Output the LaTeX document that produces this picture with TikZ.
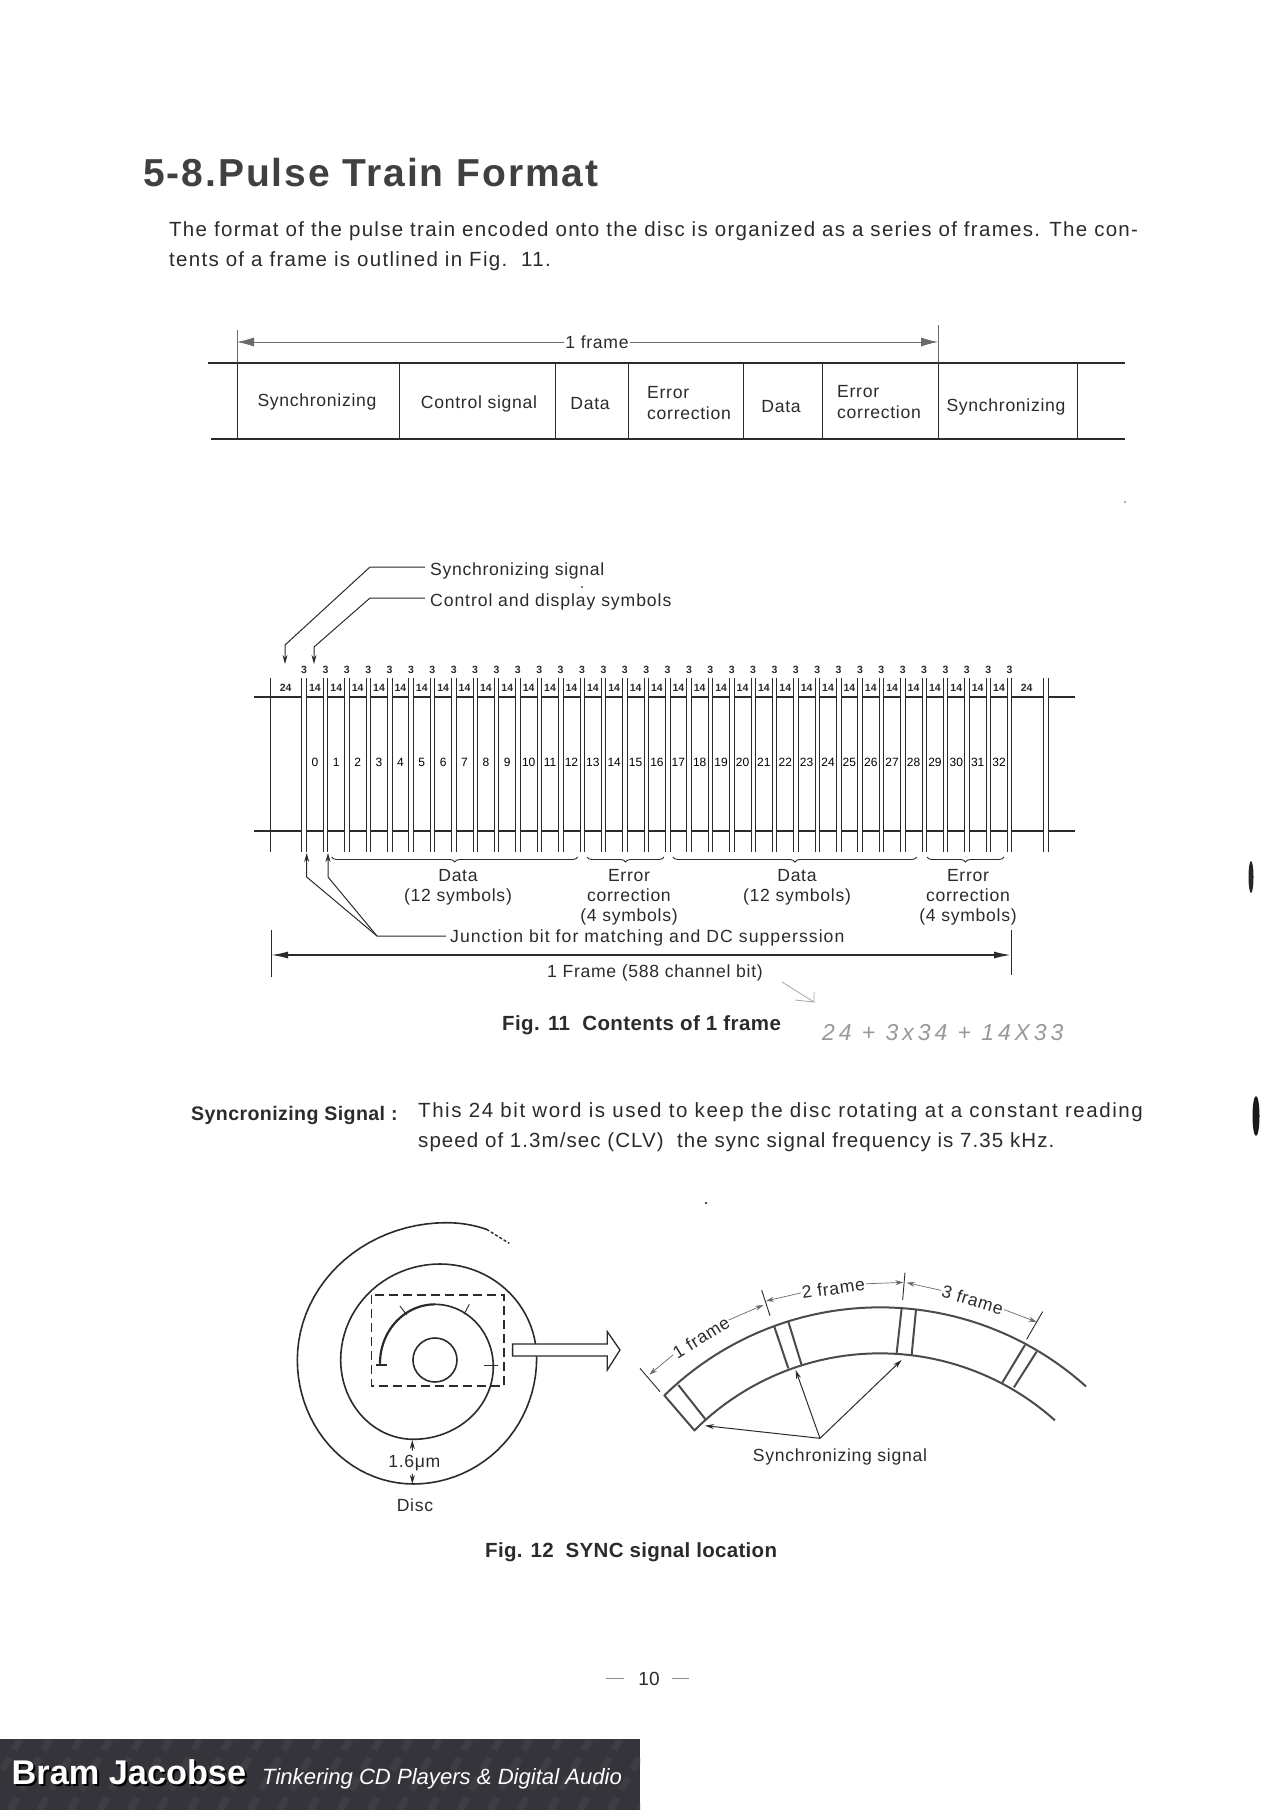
\documentclass[tikz,border=0pt]{standalone}
\usepackage{fontspec}
\setmainfont{Liberation Sans}
\newfontfamily\spaced[LetterSpace=4]{Liberation Sans}
\newfontfamily\capfont[LetterSpace=2]{Liberation Sans}
\usetikzlibrary{arrows.meta,decorations.pathreplacing,calc}
\definecolor{ink}{HTML}{2B2B2B}
\definecolor{hair}{HTML}{6A6A6A}
\definecolor{banner}{HTML}{34343A}
\definecolor{wmark}{HTML}{3D3D43}

\begin{document}
\begin{tikzpicture}[
    x=1pt, y=-1pt,
    every node/.style={inner sep=1pt, text=ink},
    lbl/.style={font=\spaced\fontsize{17.6}{18}\selectfont},
    body/.style={font=\fontsize{20.5}{21}\selectfont, anchor=west},
    figcap/.style={font=\capfont\bfseries\fontsize{20.5}{21}\selectfont, anchor=west},
    tiny14/.style={font=\bfseries\fontsize{10.5}{11}\selectfont},
    numlbl/.style={font=\fontsize{12}{12}\selectfont, text=black},
    line/.style={draw=ink, line width=0.9pt},
    rail/.style={draw=ink, line width=1.6pt},
    arrow/.style={draw=ink, line width=1pt, -{Stealth[length=9pt,width=5pt]}},
    dimarrow/.style={draw=ink, line width=1.6pt, {Latex[length=17pt,width=7pt]}-{Latex[length=17pt,width=7pt]}},
    frmarrow/.style={draw=hair, line width=0.8pt, -{Latex[length=17pt,width=9pt]}},
    graydim/.style={draw=hair, line width=0.7pt, -{Stealth[length=8pt,width=5pt]}},
    brc/.style={draw=ink, line width=0.9pt, decorate, decoration={brace,amplitude=5pt}},
    spiral/.style={draw=ink, line width=1.6pt, line cap=round},
    band/.style={draw=ink!85, line width=2pt}
]
\useasboundingbox (0,0) rectangle (1280,1810);
\fill[white] (0,0) rectangle (1280,1810);

\node (title) [anchor=west, font=\bfseries\addfontfeature{LetterSpace=5}\fontsize{39}{40}\selectfont, text=ink!90] at (142,173) {5-8.Pulse Train Format};
\node (paraa) [body] at (168,231.5) {\addfontfeature{LetterSpace=6.3}The format of the pulse train encoded onto the disc is organized as a series of frames. The con-};
\node (parab) [body] at (168,261.5) {\addfontfeature{LetterSpace=6.3}tents of a frame is outlined in Fig.~~11.};

\draw[rail] (208,363) -- (1125,363);
\draw[rail] (211,439) -- (1125,439);
\foreach \xx in {237,399,555,628,743,822,938,1077}
    \draw[line] (\xx,363) -- (\xx,439);
\draw[draw=hair, line width=0.8pt] (237,330) -- (237,363);
\draw[draw=hair, line width=0.8pt] (938,325) -- (938,363);
\node (onefrm) [lbl] at (597,342) {1 frame};
\coordinate (frmleft) at (237,342);
\coordinate (frmright) at (938,342);
\draw[frmarrow] (onefrm) -- (frmleft);
\draw[frmarrow] (onefrm) -- (frmright);
\node (seca) [lbl] at (317,402) {Synchronizing};
\node (secb) [lbl] at (479,404) {Control signal};
\node (secc) [lbl] at (590,404) {Data};
\node (secd) [lbl, align=left] at (689,403) {Error\\[3pt]correction};
\node (sece) [lbl] at (781,407) {Data};
\node (secf) [lbl, align=left] at (879,402) {Error\\[3pt]correction};
\node (secg) [lbl] at (1006,407) {Synchronizing};

\node (syncsig) [lbl, anchor=west] at (429,571) {Synchronizing signal};
\node (ctrlsym) [lbl, anchor=west] at (429,602) {\addfontfeature{LetterSpace=5.2}Control and display symbols};
\coordinate (syncend) at (425,567);
\coordinate (ctrlend) at (425,598);
\coordinate (synctip) at (285,664);
\coordinate (ctrltip) at (314,664);
\draw[arrow] (syncend) -- (370,567) -- (285,645) -- (synctip);
\draw[arrow] (ctrlend) -- (370,598) -- (314,647) -- (ctrltip);

\draw[rail] (254,697) -- (301.7,697);
\draw[rail] (254,831) -- (301.7,831);
\draw[rail] (1011.7,697) -- (1043,697) (1048,697) -- (1075,697);
\draw[rail] (1011.7,831) -- (1043,831) (1048,831) -- (1075,831);
\foreach \xx in {270,301.7,1011.7,1043,1048}
    \draw[line] (\xx,678) -- (\xx,852);
\node (lefttw) [tiny14] at (285.7,688) {24};
\node (righttw) [tiny14] at (1026.7,688) {24};

\foreach \i in {0,...,32} {
    \pgfmathsetmacro{\xa}{306.5+21.38*\i}
    \pgfmathsetmacro{\xb}{\xa+16.9}
    \pgfmathsetmacro{\xc}{\xa+8.4}
    \draw[line] (\xa,678) -- (\xa,852);
    \draw[line] (\xb,678) -- (\xb,852);
    \draw[rail] (\xa,697) -- (\xb,697);
    \draw[rail] (\xa,831) -- (\xb,831);
    \node (cell\i) [tiny14] at (\xc,688) {14};
    \node (num\i) [numlbl] at (\xc,762) {\i};
}
\foreach \i in {0,...,33} {
    \pgfmathsetmacro{\xc}{304.1+21.38*\i}
    \node (gap\i) [tiny14] at (\xc,670) {3};
}

\draw[brc] (577.7,857) -- (331.7,857);
\draw[brc] (664,857) -- (587,857);
\draw[brc] (916.7,857) -- (673,857);
\draw[brc] (1004,857) -- (927,857);
\node (dataa) [lbl, align=center] at (458,887) {Data\\[2pt](12 symbols)};
\node (erra) [lbl, align=center] at (629,897) {Error\\[2pt]correction\\[2pt](4 symbols)};
\node (datab) [lbl, align=center] at (797,887) {Data\\[2pt](12 symbols)};
\node (errb) [lbl, align=center] at (968,897) {Error\\[2pt]correction\\[2pt](4 symbols)};

\node (jbit) [lbl, anchor=west] at (449,937.5) {\addfontfeature{LetterSpace=6}Junction bit for matching and DC supperssion};
\coordinate (jend) at (446,936);
\coordinate (jtipa) at (306.7,853);
\coordinate (jtipb) at (328,853);
\draw[arrow] (jend) -- (377,936) -- (306.7,877) -- (jtipa);
\draw[arrow] (377,936) -- (328,877) -- (jtipb);

\coordinate (fleft) at (271,955);
\coordinate (fright) at (1011,955);
\draw[line] (271,930) -- (271,977);
\draw[line] (1011,930) -- (1011,975);
\draw[dimarrow] (fleft) -- (fright);
\node (oneframe) [lbl] at (655,973) {1 Frame (588 channel bit)};

\node (figa) [figcap] at (501,1025) {Fig. 11~~Contents of 1 frame};
\node (hand) [anchor=west, text=black!40, font=\itshape\addfontfeature{LetterSpace=17}\fontsize{23}{24}\selectfont] at (821,1033) {24 + 3x34 + 14X33};
\draw[draw=black!35, line width=0.8pt] (782,982) -- (814,1002) -- (795,1000) (814,1002) -- (814,992);

\node (syncname) [figcap, font=\capfont\bfseries\fontsize{19.6}{20}\selectfont] at (190,1115) {Syncronizing Signal :};
\node (syncla) [body] at (417,1112) {\addfontfeature{LetterSpace=7.6}This 24 bit word is used to keep the disc rotating at a constant reading};
\node (synclb) [body] at (417,1142) {\addfontfeature{LetterSpace=5.2}speed of 1.3m/sec (CLV)~~the sync signal frequency is 7.35 kHz.};

\begin{scope}[shift={(280,1200)}, scale=0.3333]
\draw[spiral, line width=2.2pt] plot[domain=180:270, samples=24] ({465+165*cos(\x)},{490+177*sin(\x)});
\foreach \cx/\cy/\rx/\ry/\st in {465/500/175/187/270, 400/500/240/218/0, 400/480/218/238/90, 480/480/298/288/180, 480/475/290/283/270, 400/475/370/377/0, 400/480/348/372/90, 500/480/448/412/180}
    \draw[spiral] plot[domain=\st:\st+90, samples=24] ({\cx+\rx*cos(\x)},{\cy+\ry*sin(\x)});
\draw[spiral] plot[domain=270:288, samples=8] ({500+390*cos(\x)},{480+412*sin(\x)});
\draw[draw=ink, line width=1.4pt, densely dashed] (620,88) -- (688,130);
\draw[draw=ink, line width=1.6pt] (465,480) circle (66);
\draw[draw=ink, line width=1.1pt, dash pattern=on 9pt off 5pt] (275,285) rectangle (672,558);
\draw[line, line width=1.4pt] (288,495) -- (320,495);
\draw[line, line width=1.4pt] (612,497) -- (655,497);
\draw[line] (360,318) -- (380,345);
\draw[line] (568,313) -- (552,343);
\draw[draw=ink, line width=1.3pt, fill=white] (698,432) -- (982,432) -- (982,395) -- (1020,450) -- (982,510) -- (982,468) -- (698,468) -- cycle;
\node (pitch) [lbl] at (403,790) {1.6μm};
\node (disc) [lbl] at (405,915) {Disc};
\coordinate (pitchup) at (397,720);
\coordinate (pitchdn) at (397,852);
\draw[arrow] (397,752) -- (pitchup);
\draw[arrow] (397,822) -- (pitchdn);
\end{scope}

\begin{scope}[shift={(620,1250)}, scale=0.3333]
\draw[band] plot[domain=225.6:312, samples=50] ({780+924*cos(\x)},{1096+924*sin(\x)});
\draw[band] plot[domain=224.9:311.9, samples=50] ({780+786*cos(\x)},{1096+786*sin(\x)});
\draw[band] (132,435) -- (225,543);
\draw[band] (175,405) -- (258,510);
\draw[band] (463,230) -- (505,355);
\draw[band] (505,215) -- (545,345);
\draw[band] (845,175) -- (830,310);
\draw[band] (888,180) -- (875,315);
\draw[band] (1215,285) -- (1147,398);
\draw[band] (1250,305) -- (1182,412);
\draw[line] (60,355) -- (120,425);
\draw[line] (425,120) -- (450,197);
\draw[line] (855,68) -- (848,150);
\draw[line] (1268,185) -- (1220,268);
\node (frma) [lbl, rotate=32] at (243,262) {1 frame};
\node (frmb) [lbl, rotate=8] at (640,115) {2 frame};
\node (frmc) [lbl, rotate=-17] at (1058,150) {3 frame};
\coordinate (tipa) at (88,374);
\coordinate (tipb) at (430,165);
\coordinate (tipc) at (438,153);
\coordinate (tipd) at (850,97);
\coordinate (tipe) at (860,98);
\coordinate (tipf) at (1250,216);
\draw[graydim] (frma.west) -- (tipa);
\draw[graydim] (frma.east) -- (tipb);
\draw[graydim] (frmb.west) -- (tipc);
\draw[graydim] (frmb.east) -- (tipd);
\draw[graydim] (frmc.west) -- (tipe);
\draw[graydim] (frmc.east) -- (tipf);
\node (syncsigb) [lbl] at (660,620) {Synchronizing signal};
\coordinate (apex) at (600,565);
\coordinate (syncpa) at (255,527);
\coordinate (syncpb) at (527,360);
\coordinate (syncpc) at (845,330);
\draw[arrow] (apex) -- (syncpa);
\draw[arrow] (apex) -- (syncpb);
\draw[arrow] (apex) -- (syncpc);
\end{scope}

\node (figb) [figcap] at (484,1552) {\addfontfeature{LetterSpace=1.5}Fig. 12~~SYNC signal location};
\node (pageno) [font=\fontsize{19}{20}\selectfont] at (649,1679) {10};
\coordinate (dasha) at (624,1678);
\coordinate (dashb) at (672,1678);
\draw[draw=black!45, line width=0.8pt] (606,1678) -- (dasha);
\draw[draw=black!45, line width=0.8pt] (dashb) -- (689,1678);

\fill[black!85] (1251,877) ellipse (2.5 and 16);
\fill[black!90] (1256,1116) ellipse (3.5 and 20);
\fill[black!70] (706,1203) circle (1.4);
\fill[black!50] (1125,502) circle (1);
\fill[black!70] (582,587) circle (1.2);

\fill[banner] (0,1739) rectangle (640,1810);
\begin{scope}
\clip (0,1739) rectangle (640,1810);
\foreach \xx in {-20,10,...,660}
    \draw[draw=wmark, line width=7pt, dash pattern=on 14pt off 9pt] (\xx,1810) -- ++(40,-71);
\end{scope}
\node (bramsh) [anchor=west, text=black, font=\bfseries\fontsize{34.3}{35}\selectfont] at (12.5,1774.5) {Bram Jacobse};
\node (bram) [anchor=west, text=white, font=\bfseries\fontsize{34.3}{35}\selectfont] at (10.5,1772.5) {Bram Jacobse};
\node (tink) [anchor=west, text=white, font=\itshape\fontsize{22.1}{23}\selectfont] at (261,1779) {Tinkering CD Players \& Digital Audio};
\end{tikzpicture}
\end{document}
